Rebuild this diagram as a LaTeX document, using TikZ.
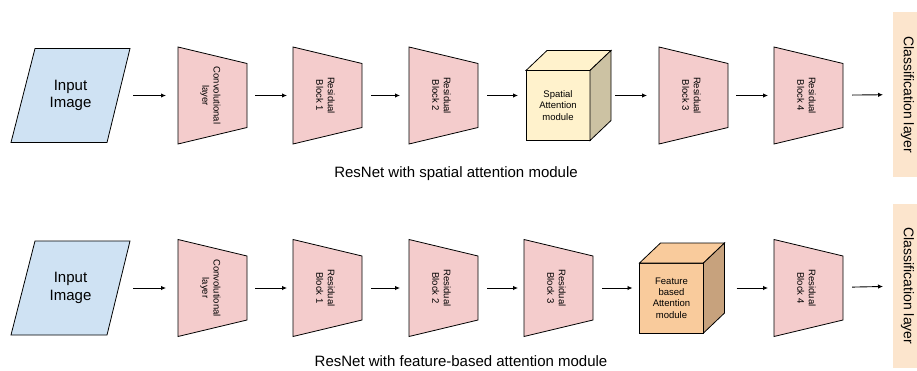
\documentclass[tikz,border=0pt]{standalone}
\usepackage{fontspec}
\setmainfont{Liberation Sans}
\usetikzlibrary{arrows.meta}
\definecolor{inblue}{HTML}{CFE2F3}
\definecolor{trappink}{HTML}{F4CCCC}
\definecolor{yelfront}{HTML}{FFF2CC}
\definecolor{yelside}{HTML}{CCC2A3}
\definecolor{orfront}{HTML}{F9CB9C}
\definecolor{orside}{HTML}{C7A27D}
\definecolor{clsfill}{HTML}{FCE5CD}
\tikzset{
 bbox/.style={inner sep=0pt, outer sep=0pt, draw=none},
 outl/.style={draw=black, line width=0.8pt, line join=miter},
 arr/.style={-{Latex[length=5pt,width=4.5pt]}, line width=0.9pt},
 smalltxt/.style={font=\fontsize{9.5}{11.3}\selectfont, align=center, inner sep=0pt},
 bigtxt/.style={font=\fontsize{15}{17.5}\selectfont, align=center, inner sep=0pt},
 clstxt/.style={font=\fontsize{14}{16}\selectfont, rotate=-90, inner sep=0pt},
 clsbox/.style={bbox, fill=clsfill, minimum width=26pt},
}
\newcommand\mytrap[4]{%
 \node[bbox, minimum width=69pt, minimum height=97pt] (#1) at (#2,#3) {};
 \draw[outl, fill=trappink] (#1.north west) -- ([yshift=-16.5pt]#1.north east) -- ([yshift=16.5pt]#1.south east) -- (#1.south west) -- cycle;
 \node[smalltxt, rotate=-90] (#1t) at ([xshift=-2pt]#1.center) {#4};
}
\newcommand\myinput[3]{%
 \node[bbox, minimum width=119pt, minimum height=94pt] (#1) at (#2,#3) {};
 \draw[outl, fill=inblue] ([xshift=24pt]#1.north west) -- (#1.north east) -- ([xshift=-23pt]#1.south east) -- (#1.south west) -- cycle;
 \node[bigtxt] (#1t) at (#1.center) {Input\\Image};
}
\newcommand\mycube[6]{%
 \node[bbox, minimum width=85pt, minimum height=90pt] (#1) at (#2,#3) {};
 \draw[outl, fill=#4] (#1.south west) rectangle ([xshift=64pt,yshift=70pt]#1.south west);
 \draw[outl, fill=#4] ([yshift=70pt]#1.south west) -- ([xshift=21pt]#1.north west) -- (#1.north east) -- ([xshift=-21pt,yshift=-20pt]#1.north east) -- cycle;
 \draw[outl, fill=#5] ([xshift=-21pt,yshift=-20pt]#1.north east) -- (#1.north east) -- ([yshift=20pt]#1.south east) -- ([xshift=-21pt]#1.south east) -- cycle;
 \node[smalltxt] (#1t) at ([xshift=32pt,yshift=35pt]#1.south west) {#6};
}
\begin{document}
\begin{tikzpicture}[x=1pt,y=1pt]
\useasboundingbox (0,0) rectangle (917,370);
% ---------- top row ----------
\myinput{inA}{70.5}{274.5}
\mytrap{cvA}{212.5}{274.5}{Convolutional\\layer}
\mytrap{rbAa}{327.5}{274.5}{Residual\\Block 1}
\mytrap{rbAb}{443.5}{274.5}{Residual\\Block 2}
\mycube{cbA}{568.5}{274.5}{yelfront}{yelside}{Spatial\\Attention\\module}
\mytrap{rbAc}{693.5}{274.5}{Residual\\Block 3}
\mytrap{rbAd}{808.5}{274.5}{Residual\\Block 4}
\node[clsbox, minimum height=165pt] (clA) at (906,275.5) {};
\node[clstxt] (clAt) at (907.5,275) {Classification layer};
\node[bigtxt] (capA) at (456,196) {ResNet with spatial attention module};
\draw[arr, shorten <=3pt, shorten >=12pt] (inA) -- (cvA);
\draw[arr, shorten <=8pt, shorten >=6pt] (cvA) -- (rbAa);
\draw[arr, shorten <=9pt, shorten >=9pt] (rbAa) -- (rbAb);
\draw[arr, shorten <=9pt, shorten >=8pt] (rbAb) -- (cbA);
\draw[arr, shorten <=4pt, shorten >=12pt] (cbA) -- (rbAc);
\draw[arr, shorten <=8pt, shorten >=6pt] (rbAc) -- (rbAd);
\draw[arr, shorten <=9pt, shorten >=10pt] (rbAd) -- (clA);
% ---------- bottom row ----------
\myinput{inB}{70.5}{82}
\mytrap{cvB}{212.5}{82}{Convolutional\\layer}
\mytrap{rbBa}{327.5}{82}{Residual\\Block 1}
\mytrap{rbBb}{443.5}{82}{Residual\\Block 2}
\mytrap{rbBc}{558.5}{82}{Residual\\Block 3}
\mycube{cbB}{682}{82}{orfront}{orside}{Feature\\based\\Attention\\module}
\mytrap{rbBd}{808.5}{82}{Residual\\Block 4}
\node[clsbox, minimum height=164pt] (clB) at (906,84) {};
\node[clstxt] (clBt) at (907.5,84) {Classification layer};
\node[bigtxt] (capB) at (461,8.5) {ResNet with feature-based attention module};
\draw[arr, shorten <=3pt, shorten >=12pt] (inB) -- (cvB);
\draw[arr, shorten <=8pt, shorten >=6pt] (cvB) -- (rbBa);
\draw[arr, shorten <=9pt, shorten >=9pt] (rbBa) -- (rbBb);
\draw[arr, shorten <=9pt, shorten >=6pt] (rbBb) -- (rbBc);
\draw[arr, shorten <=9pt, shorten >=7pt] (rbBc) -- (cbB);
\draw[arr, shorten <=12pt, shorten >=6pt] (cbB) -- (rbBd);
\draw[arr, shorten <=9pt, shorten >=10pt] (rbBd) -- (clB);
\end{tikzpicture}
\end{document}
